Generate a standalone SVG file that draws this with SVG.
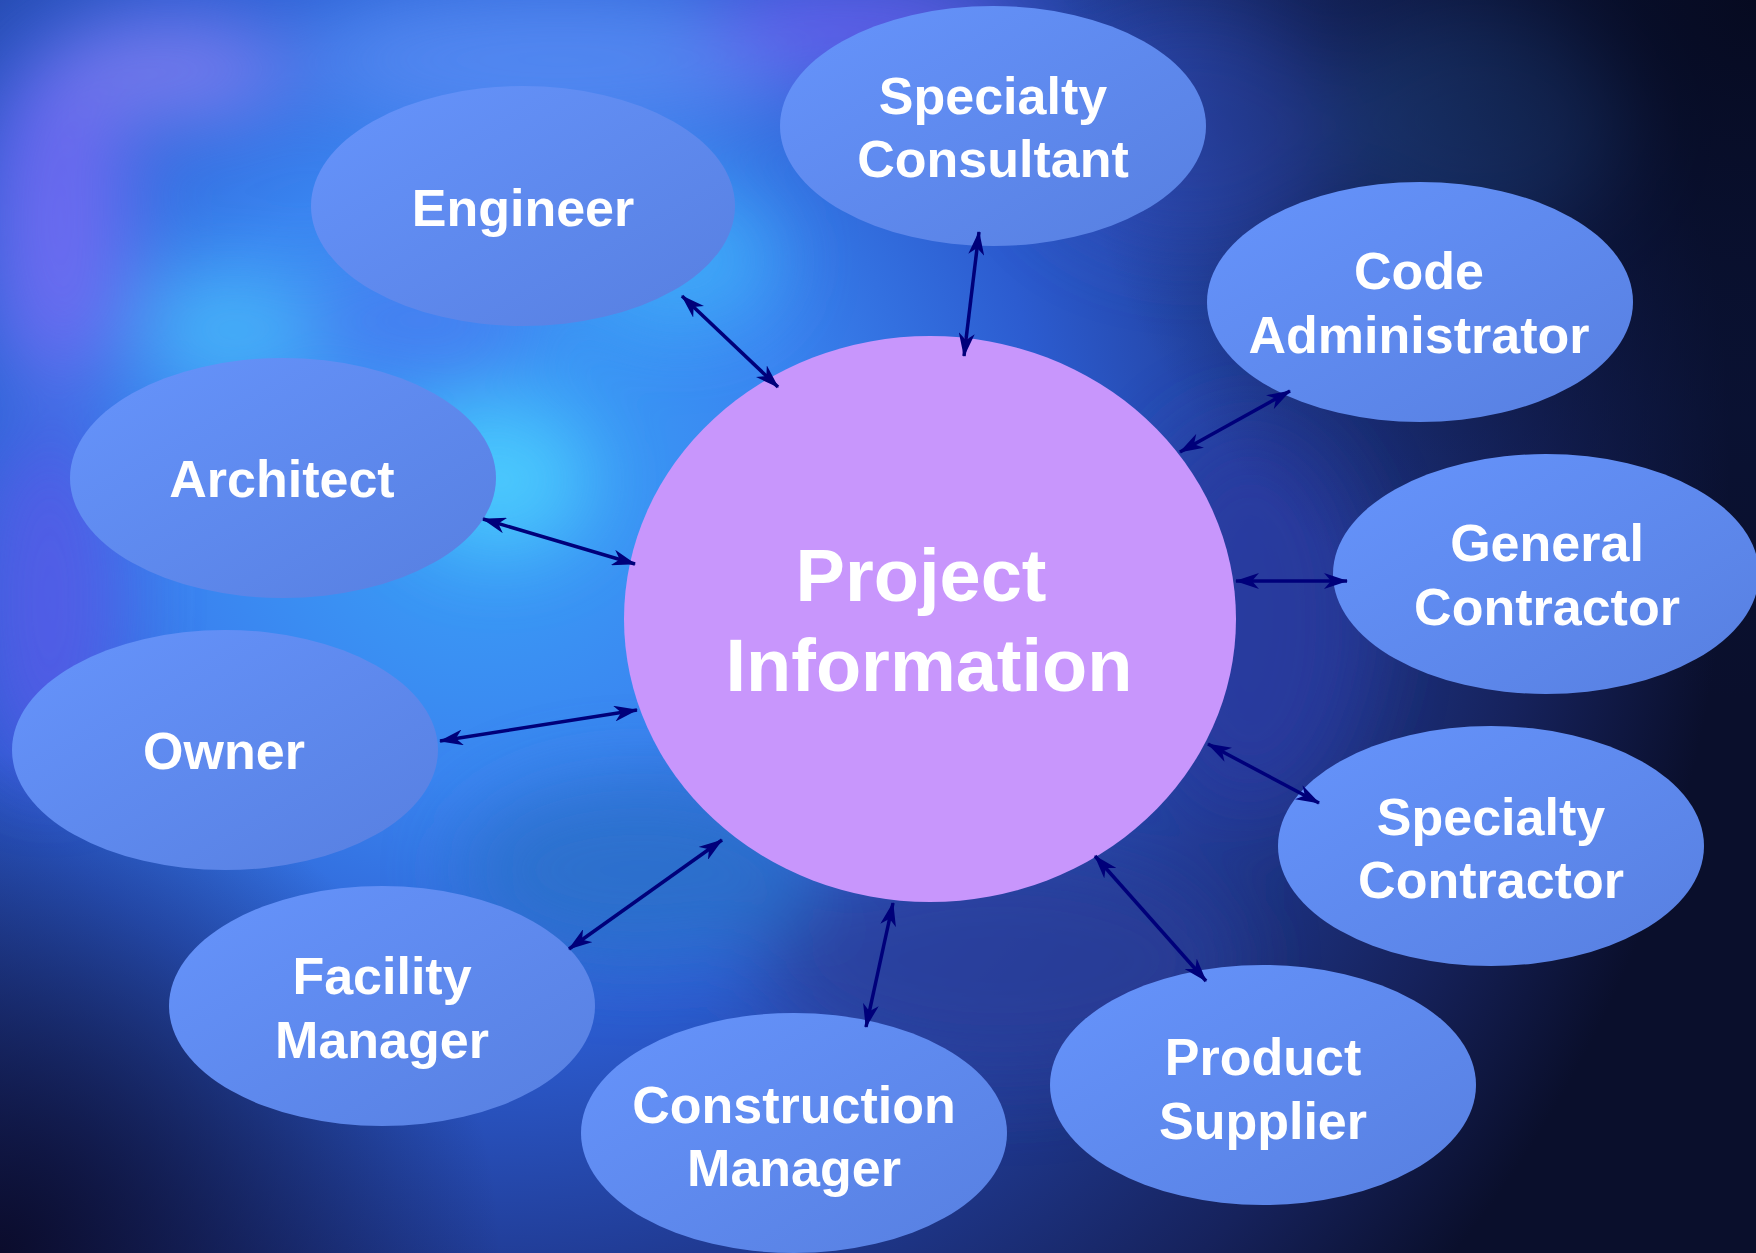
<svg xmlns="http://www.w3.org/2000/svg" width="1756" height="1253" viewBox="0 0 1756 1253">
<defs>
<style>
.node{fill:url(#nodeGrad);}
.hub{fill:#c896fc;}
.lbl{font-family:"Liberation Sans",Arial,sans-serif;font-weight:bold;font-size:52px;fill:#ffffff;text-anchor:middle;}
.hubl{font-family:"Liberation Sans",Arial,sans-serif;font-weight:bold;font-size:74px;fill:#ffffff;text-anchor:middle;}
.con{stroke:#00007a;stroke-width:3.5;fill:none;marker-start:url(#ah);marker-end:url(#ah);}
</style>
<linearGradient id="nodeGrad" x1="0" y1="0" x2="1" y2="1">
<stop offset="0" stop-color="#6694fc"/>
<stop offset="1" stop-color="#577fe0"/>
</linearGradient>
<marker id="ah" viewBox="0 0 24 16" refX="23" refY="8" markerWidth="24" markerHeight="16" markerUnits="userSpaceOnUse" orient="auto-start-reverse">
<path d="M0,0 L24,8 L0,16 L7,8 z" fill="#00007a"/>
</marker>
<radialGradient id="bgMain" cx="480" cy="470" r="1250" gradientUnits="userSpaceOnUse">
<stop offset="0" stop-color="#3aa4f8"/>
<stop offset="0.25" stop-color="#3a84f0"/>
<stop offset="0.45" stop-color="#2c5cd0"/>
<stop offset="0.65" stop-color="#203a92"/>
<stop offset="0.85" stop-color="#16225c"/>
<stop offset="1" stop-color="#0a0f2c"/>
</radialGradient>
<radialGradient id="trDark" cx="1756" cy="0" r="700" gradientUnits="userSpaceOnUse">
<stop offset="0" stop-color="#060a20" stop-opacity="0.95"/>
<stop offset="0.6" stop-color="#0a1438" stop-opacity="0.5"/>
<stop offset="1" stop-color="#0a1438" stop-opacity="0"/>
</radialGradient>
<radialGradient id="blDark" cx="0" cy="1253" r="500" gradientUnits="userSpaceOnUse">
<stop offset="0" stop-color="#0a0a28" stop-opacity="0.95"/>
<stop offset="1" stop-color="#0a0a28" stop-opacity="0"/>
</radialGradient>
<filter id="blur" x="-50%" y="-50%" width="200%" height="200%">
<feGaussianBlur stdDeviation="40"/>
</filter>
</defs>
<g id="background">
<rect x="0" y="0" width="1756" height="1253" fill="url(#bgMain)"/>
<g filter="url(#blur)" opacity="0.8">
<ellipse cx="60" cy="220" rx="70" ry="170" fill="#7a6cf6"/>
<ellipse cx="170" cy="70" rx="120" ry="50" fill="#8a80f4"/>
<ellipse cx="560" cy="60" rx="260" ry="70" fill="#5a8cf4"/>
<ellipse cx="860" cy="30" rx="160" ry="50" fill="#7060f0"/>
<ellipse cx="500" cy="480" rx="90" ry="70" fill="#50d4ff"/>
<ellipse cx="230" cy="330" rx="90" ry="60" fill="#48bcfa"/>
<ellipse cx="680" cy="260" rx="100" ry="70" fill="#40b0fa"/>
<ellipse cx="420" cy="320" rx="120" ry="60" fill="#4a7af0"/>
<ellipse cx="50" cy="600" rx="70" ry="180" fill="#5a58e8"/>
<ellipse cx="1190" cy="130" rx="160" ry="120" fill="#3050c0"/>
<ellipse cx="1480" cy="120" rx="150" ry="110" fill="#2a5aa8"/>
<ellipse cx="1250" cy="620" rx="120" ry="200" fill="#2a3aa0"/>
<ellipse cx="1000" cy="960" rx="240" ry="120" fill="#2c3c98"/>
<ellipse cx="640" cy="870" rx="180" ry="90" fill="#2a70c8"/>
</g>
<rect x="0" y="0" width="1756" height="1253" fill="url(#trDark)"/>
<rect x="0" y="0" width="1756" height="1253" fill="url(#blDark)"/>
</g>
<g id="hub">
<ellipse class="hub" cx="930" cy="619" rx="306" ry="283"/>
<text class="hubl" x="921" y="601">Project</text>
<text class="hubl" x="929" y="691">Information</text>
</g>
<g id="engineer">
<ellipse class="node" cx="523" cy="206" rx="212" ry="120"/>
<text class="lbl" x="523" y="226">Engineer</text>
</g>
<g id="specialty-consultant">
<ellipse class="node" cx="993" cy="126" rx="213" ry="120"/>
<text class="lbl" x="993" y="114">Specialty</text>
<text class="lbl" x="993" y="177">Consultant</text>
</g>
<g id="code-administrator">
<ellipse class="node" cx="1420" cy="302" rx="213" ry="120"/>
<text class="lbl" x="1419" y="289">Code</text>
<text class="lbl" x="1419" y="353">Administrator</text>
</g>
<g id="architect">
<ellipse class="node" cx="283" cy="478" rx="213" ry="120"/>
<text class="lbl" x="282" y="497">Architect</text>
</g>
<g id="general-contractor">
<ellipse class="node" cx="1546" cy="574" rx="213" ry="120"/>
<text class="lbl" x="1547" y="561">General</text>
<text class="lbl" x="1547" y="625">Contractor</text>
</g>
<g id="owner">
<ellipse class="node" cx="225" cy="750" rx="213" ry="120"/>
<text class="lbl" x="224" y="769">Owner</text>
</g>
<g id="specialty-contractor">
<ellipse class="node" cx="1491" cy="846" rx="213" ry="120"/>
<text class="lbl" x="1491" y="835">Specialty</text>
<text class="lbl" x="1491" y="898">Contractor</text>
</g>
<g id="facility-manager">
<ellipse class="node" cx="382" cy="1006" rx="213" ry="120"/>
<text class="lbl" x="382" y="994">Facility</text>
<text class="lbl" x="382" y="1058">Manager</text>
</g>
<g id="construction-manager">
<ellipse class="node" cx="794" cy="1133" rx="213" ry="120"/>
<text class="lbl" x="794" y="1123">Construction</text>
<text class="lbl" x="794" y="1186">Manager</text>
</g>
<g id="product-supplier">
<ellipse class="node" cx="1263" cy="1085" rx="213" ry="120"/>
<text class="lbl" x="1263" y="1075">Product</text>
<text class="lbl" x="1263" y="1139">Supplier</text>
</g>
<g id="connectors">
<line class="con" x1="682" y1="296" x2="778" y2="387"/>
<line class="con" x1="979" y1="232" x2="964" y2="356"/>
<line class="con" x1="1290" y1="391" x2="1180" y2="452"/>
<line class="con" x1="483" y1="519" x2="635" y2="564"/>
<line class="con" x1="1236" y1="581" x2="1347" y2="581"/>
<line class="con" x1="440" y1="741" x2="637" y2="710"/>
<line class="con" x1="1208" y1="744" x2="1319" y2="803"/>
<line class="con" x1="722" y1="840" x2="569" y2="949"/>
<line class="con" x1="893" y1="903" x2="866" y2="1027"/>
<line class="con" x1="1095" y1="856" x2="1206" y2="981"/>
</g>
</svg>
